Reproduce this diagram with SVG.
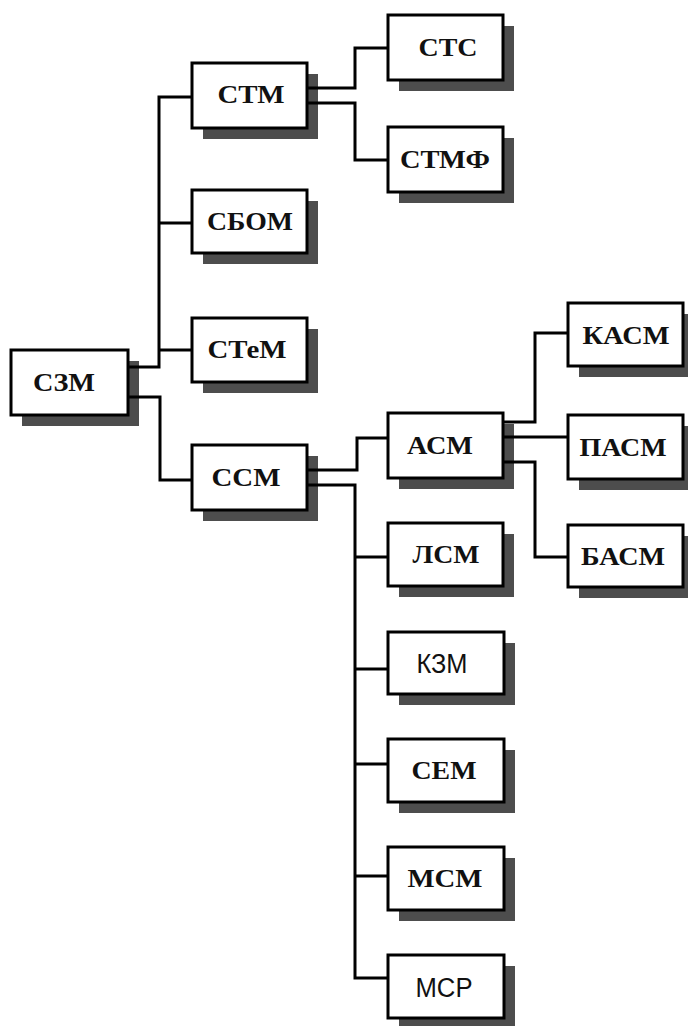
<svg xmlns="http://www.w3.org/2000/svg" width="688" height="1026" viewBox="0 0 688 1026">
<style>
.sh{fill:#4d4d4d}
.bx{fill:#fff;stroke:#000;stroke-width:3}
.t{font-family:"Liberation Serif","Times New Roman",serif;font-weight:bold;font-size:25px;fill:#111;text-anchor:middle}
.s{font-family:"Liberation Sans",Arial,sans-serif;font-size:27px;fill:#111;text-anchor:middle}
.c{fill:none;stroke:#000;stroke-width:3}
</style>
<rect width="688" height="1026" fill="#fff"/>
<g id="n-c3m"><rect class="sh" x="22" y="361" width="117" height="65"/><rect class="bx" x="11" y="350" width="117" height="65"/><text class="t" x="64" y="391" textLength="62" lengthAdjust="spacingAndGlyphs">СЗМ</text></g>
<g id="n-ctm"><rect class="sh" x="203" y="74" width="115" height="65"/><rect class="bx" x="192" y="63" width="115" height="65"/><text class="t" x="251" y="103" textLength="67" lengthAdjust="spacingAndGlyphs">СТМ</text></g>
<g id="n-cbom"><rect class="sh" x="203" y="201" width="115" height="63"/><rect class="bx" x="192" y="190" width="115" height="63"/><text class="t" x="250" y="230" textLength="86" lengthAdjust="spacingAndGlyphs">СБОМ</text></g>
<g id="n-ctem"><rect class="sh" x="203" y="329" width="115" height="64"/><rect class="bx" x="192" y="318" width="115" height="64"/><text class="t" x="247" y="358" textLength="79" lengthAdjust="spacingAndGlyphs">СТеМ</text></g>
<g id="n-ccm"><rect class="sh" x="203" y="456" width="115" height="65"/><rect class="bx" x="192" y="445" width="115" height="65"/><text class="t" x="246" y="486" textLength="69" lengthAdjust="spacingAndGlyphs">ССМ</text></g>
<g id="n-ctc"><rect class="sh" x="399" y="26" width="115" height="65"/><rect class="bx" x="388" y="15" width="115" height="65"/><text class="t" x="448" y="56" textLength="59" lengthAdjust="spacingAndGlyphs">СТС</text></g>
<g id="n-ctmf"><rect class="sh" x="399" y="138" width="115" height="65"/><rect class="bx" x="388" y="127" width="115" height="65"/><text class="t" x="445" y="168" textLength="90" lengthAdjust="spacingAndGlyphs">СТМФ</text></g>
<g id="n-acm"><rect class="sh" x="399" y="424" width="115" height="65"/><rect class="bx" x="388" y="413" width="115" height="65"/><text class="t" x="440" y="454" textLength="66" lengthAdjust="spacingAndGlyphs">АСМ</text></g>
<g id="n-lcm"><rect class="sh" x="399" y="534" width="115" height="63"/><rect class="bx" x="388" y="523" width="115" height="63"/><text class="t" x="446" y="563" textLength="67" lengthAdjust="spacingAndGlyphs">ЛСМ</text></g>
<g id="n-k3m"><rect class="sh" x="399" y="643" width="116" height="62"/><rect class="bx" x="388" y="632" width="116" height="62"/><text class="s" x="442" y="673" textLength="51" lengthAdjust="spacingAndGlyphs">КЗМ</text></g>
<g id="n-cem"><rect class="sh" x="399" y="750" width="116" height="63"/><rect class="bx" x="388" y="739" width="116" height="63"/><text class="t" x="444" y="779" textLength="65" lengthAdjust="spacingAndGlyphs">СЕМ</text></g>
<g id="n-mcm"><rect class="sh" x="399" y="858" width="116" height="63"/><rect class="bx" x="388" y="847" width="116" height="63"/><text class="t" x="445" y="887" textLength="75" lengthAdjust="spacingAndGlyphs">МСМ</text></g>
<g id="n-mcp"><rect class="sh" x="399" y="966" width="116" height="63"/><rect class="bx" x="388" y="955" width="116" height="63"/><text class="s" x="444" y="997" textLength="57" lengthAdjust="spacingAndGlyphs">МСР</text></g>
<g id="n-kacm"><rect class="sh" x="579" y="314" width="115" height="63"/><rect class="bx" x="568" y="303" width="115" height="63"/><text class="t" x="626" y="344" textLength="87" lengthAdjust="spacingAndGlyphs">КАСМ</text></g>
<g id="n-pacm"><rect class="sh" x="579" y="426" width="115" height="64"/><rect class="bx" x="568" y="415" width="115" height="64"/><text class="t" x="623" y="456" textLength="87" lengthAdjust="spacingAndGlyphs">ПАСМ</text></g>
<g id="n-bacm"><rect class="sh" x="579" y="536" width="115" height="62"/><rect class="bx" x="568" y="525" width="115" height="62"/><text class="t" x="623" y="565" textLength="84" lengthAdjust="spacingAndGlyphs">БАСМ</text></g>
<g id="connectors">
<path class="c" d="M128,367 H159 V97 H192 M159,223 H192 M159,350 H192"/>
<path class="c" d="M128,397 H160 V480 H192"/>
<path class="c" d="M307,88 H355 V48 H388"/>
<path class="c" d="M307,103 H355 V160 H388"/>
<path class="c" d="M307,470 H357 V438 H388"/>
<path class="c" d="M307,485 H355 V978 H388 M355,557 H388 M355,669 H388 M355,764 H388 M355,876 H388"/>
<path class="c" d="M503,422 H535 V333 H568"/>
<path class="c" d="M503,437 H568"/>
<path class="c" d="M503,462 H535 V557 H568"/>
</g>
</svg>
